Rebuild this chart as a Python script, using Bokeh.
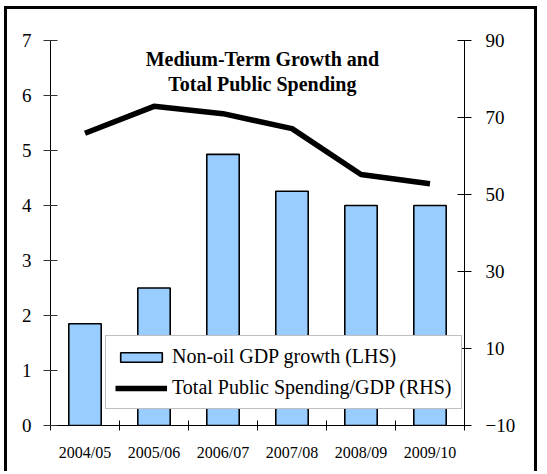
from bokeh.plotting import figure
from bokeh.models import (Range1d, LinearAxis, FixedTicker, Legend, LegendItem,
                          Label)
from bokeh.embed import file_html
from bokeh.resources import INLINE

years = ["2004/05", "2005/06", "2006/07", "2007/08", "2008/09", "2009/10"]
gdp_growth = [1.85, 2.5, 4.93, 4.26, 4.0, 4.0]
spending = [65.9, 72.9, 71.0, 67.1, 55.2, 52.8]
lhs_ticks = [0, 1, 2, 3, 4, 5, 6, 7]
rhs_ticks = [-10, 10, 30, 50, 70, 90]
title_lines = ["Medium-Term Growth and", "Total Public Spending"]

xs = list(range(len(years)))
bounds = [i - 0.5 for i in range(len(years) + 1)]

SERIF = "Liberation Serif"

p = figure(width=533, height=465, output_backend="svg", toolbar_location=None,
           x_range=Range1d(-0.5, len(years) - 0.5), y_range=Range1d(0, 7),
           min_border_left=43, min_border_right=76, min_border_top=31,
           min_border_bottom=49)
p.styles = {"border-left": "3px solid black", "border-top": "3px solid black",
            "border-right": "3px solid black", "margin-left": "4px",
            "margin-top": "6px"}
p.extra_y_ranges = {"rhs": Range1d(-10, 90)}
p.xgrid.visible = False
p.ygrid.visible = False
p.outline_line_color = None
p.background_fill_color = "white"
p.border_fill_color = "white"

bars = p.vbar(x=xs, top=gdp_growth, bottom=0, width=0.47,
              fill_color="#99CCFF", line_color="black", line_width=1.6)
line = p.line(x=xs, y=spending, y_range_name="rhs", line_color="black",
              line_width=5.5)

# x axis
xa = p.xaxis[0]
xa.ticker = FixedTicker(ticks=xs, minor_ticks=bounds)
xa.major_label_overrides = {i: years[i] for i in xs}
xa.major_tick_in = 0
xa.major_tick_out = 0
xa.minor_tick_in = 5
xa.minor_tick_out = 5
xa.minor_tick_line_color = "black"
xa.axis_line_color = "black"
xa.major_label_text_font = SERIF
xa.major_label_text_font_size = "16px"
xa.major_label_text_color = "black"
xa.major_label_standoff = 13

# left axis
ya = p.yaxis[0]
ya.ticker = FixedTicker(ticks=lhs_ticks)
ya.major_tick_in = 7
ya.major_tick_out = 7
ya.minor_tick_line_color = None
ya.major_tick_line_color = "#333333"
ya.axis_line_color = "black"
ya.major_label_text_font = SERIF
ya.major_label_text_font_size = "19px"
ya.major_label_text_color = "black"
ya.major_label_standoff = 12

# right axis
ra = LinearAxis(y_range_name="rhs", ticker=FixedTicker(ticks=rhs_ticks))
ra.major_tick_in = 7
ra.major_tick_out = 7
ra.minor_tick_line_color = None
ra.major_tick_line_color = "black"
ra.axis_line_color = "black"
ra.major_label_text_font = SERIF
ra.major_label_text_font_size = "19px"
ra.major_label_text_color = "black"
ra.major_label_standoff = 14
p.add_layout(ra, "right")

# title inside the plot
for txt, yv in zip(title_lines, [6.67, 6.21]):
    p.add_layout(Label(x=2.57, y=yv, text=txt, text_align="center",
                       text_baseline="alphabetic", text_font=SERIF,
                       text_font_style="bold", text_font_size="20px",
                       text_color="black"))

legend = Legend(items=[LegendItem(label="Non-oil GDP growth (LHS)", renderers=[bars]),
                       LegendItem(label="Total Public Spending/GDP (RHS)", renderers=[line])],
                location=(55, 16), orientation="vertical",
                glyph_width=52, glyph_height=12, label_standoff=5,
                label_height=22, padding=9, spacing=8, margin=0,
                label_text_font=SERIF, label_text_font_size="20px",
                label_text_color="black",
                border_line_color="#808080", border_line_width=1,
                background_fill_color="white", background_fill_alpha=1.0)
p.add_layout(legend)

open("out.html", "w").write(file_html(p, INLINE))
